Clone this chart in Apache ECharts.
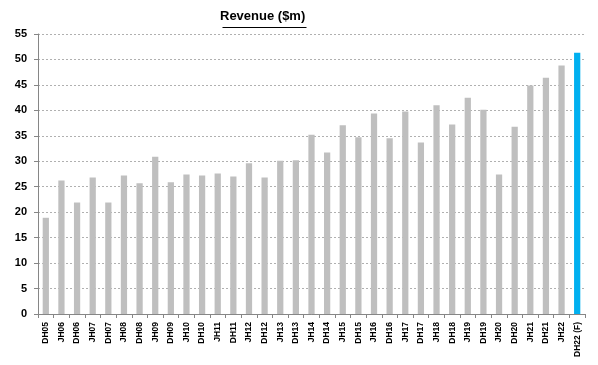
<!DOCTYPE html>
<html>
<head>
<meta charset="utf-8">
<script src="https://cdn.jsdelivr.net/npm/echarts@6/dist/echarts.min.js"></script>
<style>html,body{margin:0;padding:0;background:#fff}#c{width:598px;height:365px}</style>
</head>
<body>
<div id="c"></div>
<script>
const categories = ["DH05","JH06","DH06","JH07","DH07","JH08","DH08","JH09","DH09","JH10","DH10","JH11","DH11","JH12","DH12","JH13","DH13","JH14","DH14","JH15","DH15","JH16","DH16","JH17","DH17","JH18","DH18","JH19","DH19","JH20","DH20","JH21","DH21","JH22","DH22 (F)"];
const revenue = [18.9,26.2,21.9,26.8,21.9,27.2,25.7,30.9,25.9,27.4,27.2,27.6,27.0,29.6,26.8,30.1,30.2,35.2,31.7,37.1,34.7,39.4,34.5,39.8,33.7,41.0,37.2,42.5,40.1,27.4,36.8,44.9,46.4,48.8,51.3];
const forecastIndex = [34];
const yTicks = {min:0, max:55, interval:5};

const chart = echarts.init(document.getElementById('c'), null, {renderer:'canvas'});
chart.setOption({
  animation:false,
  title:{text:'Revenue ($m)', left:220, top:10, padding:0,
    textStyle:{fontFamily:'Liberation Sans', fontWeight:'bold', fontSize:13, color:'#000'}},
  graphic:[{type:'line', left:220, top:25, shape:{x1:0,y1:0,x2:84,y2:0}, style:{stroke:'#000', lineWidth:1.2}}],
  grid:{left:38, right:13, top:34, bottom:51, containLabel:false, outerBoundsMode:'none'},
  xAxis:{type:'category', data:categories,
    axisLine:{lineStyle:{color:'#868686'}},
    axisTick:{show:true, alignWithLabel:false, length:4, lineStyle:{color:'#868686'}},
    axisLabel:{rotate:90, interval:0, fontFamily:'Liberation Sans', fontWeight:'bold', fontSize:8.5, color:'#000', margin:8}},
  yAxis:{type:'value', min:yTicks.min, max:yTicks.max, interval:yTicks.interval,
    axisLine:{show:true, lineStyle:{color:'#868686'}},
    axisTick:{show:true, length:4, lineStyle:{color:'#868686'}},
    axisLabel:{fontFamily:'Liberation Sans', fontWeight:'bold', fontSize:11, color:'#000', margin:11}},
  series:[{type:'bar', barWidth:'40%',
    data:revenue.map((v,i)=>({value:v, itemStyle:{color: forecastIndex.includes(i)?'#00B0F0':'#BFBFBF'}}))}]
});
chart.setOption({yAxis:{splitLine:{lineStyle:{color:'#b0b0b0', type:[2,2], width:1}}}});
</script>
</body>
</html>
